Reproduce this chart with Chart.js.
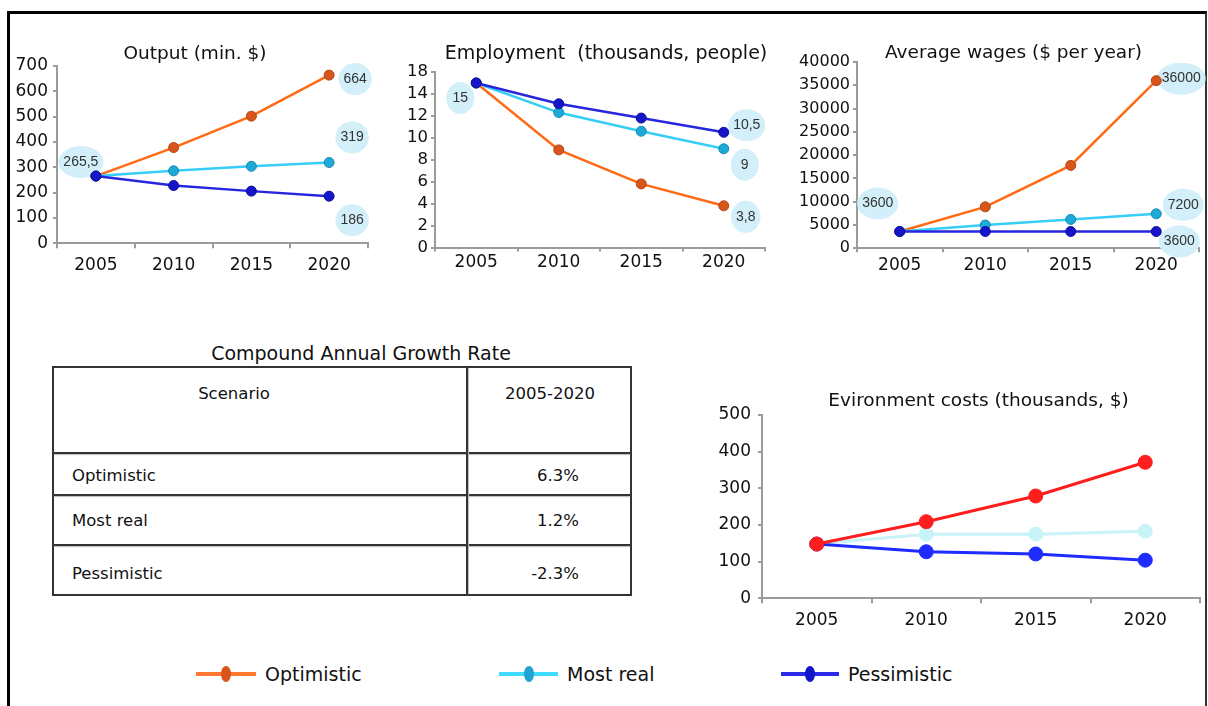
<!DOCTYPE html>
<html><head><meta charset="utf-8">
<script src="https://cdn.jsdelivr.net/npm/chart.js@4/dist/chart.umd.min.js"></script>
<style>
html,body{margin:0;padding:0;background:#fff;}
body{width:1208px;height:706px;overflow:hidden;position:relative;font-family:"DejaVu Sans",sans-serif;color:#111;}
.frame{position:absolute;left:7px;top:11px;width:1195px;height:800px;border-left:3px solid #000;border-top:3px solid #000;border-right:2px solid #333;}
canvas{position:absolute;}
.ttl{position:absolute;text-align:center;font-size:19px;line-height:24px;white-space:nowrap;}
.tbl{position:absolute;left:52px;top:366px;width:580px;height:230px;border:2px solid #333;box-sizing:border-box;}
.hl{position:absolute;left:0;right:0;height:2px;background:#333;box-shadow:0 1px 1px #bbb;}
.vl{position:absolute;top:0;bottom:0;width:2px;background:#333;box-shadow:1px 0 1px #bbb;}
.cell{position:absolute;font-size:16.5px;line-height:20px;white-space:nowrap;}
.lg{position:absolute;top:662px;height:24px;}
.lg .ln{position:absolute;top:10px;height:4px;}
.lg .dt{position:absolute;top:4px;width:10px;height:16px;border-radius:50%;}
.lg .tx{position:absolute;top:0;font-size:19px;line-height:24px;white-space:nowrap;}
</style>
</head>
<body>
<div class="frame"></div>
<canvas id="c1"></canvas>
<canvas id="c2"></canvas>
<canvas id="c3"></canvas>
<canvas id="c4"></canvas>
<div class="ttl" id="tblTitle" style="left:161px;width:400px;top:341px;">Compound Annual Growth Rate</div>
<div class="tbl" id="tbl"></div>
<div id="legend"></div>
<script>
// ---------- data ----------
const years = ['2005', '2010', '2015', '2020'];
const seriesNames = ['Optimistic', 'Most real', 'Pessimistic'];

const outputOptimistic = [265.5, 378, 502, 664];
const outputMostReal = [265.5, 286, 304, 319];
const outputPessimistic = [265.5, 228, 206, 186];
const outputBubbleText = ['265,5', '664', '319', '186'];

const employmentOptimistic = [15, 8.9, 5.8, 3.8];
const employmentMostReal = [15, 12.3, 10.6, 9];
const employmentPessimistic = [15, 13.1, 11.8, 10.5];
const employmentTickLabels = ['0', '2', '4', '6', '8', '10', '12', '14', '18'];
const employmentBubbleText = ['15', '10,5', '9', '3,8'];

const wagesOptimistic = [3600, 8900, 17800, 36000];
const wagesMostReal = [3600, 5000, 6200, 7400];
const wagesPessimistic = [3600, 3600, 3600, 3600];
const wagesBubbleText = ['3600', '36000', '7200', '3600'];

const envOptimistic = [148, 209, 279, 371];
const envMostReal = [148, 175, 175, 183];
const envPessimistic = [148, 127, 121, 104];

const cagrHeader = ['Scenario', '2005-2020'];
const cagrScenarios = ['Optimistic', 'Most real', 'Pessimistic'];
const cagrValues = ['6.3%', '1.2%', '-2.3%'];

// ---------- styles ----------
const COL = {
  opt: {line: '#ff6a14', point: '#d8561c', border: '#b44414'},
  mr: {line: '#36cdf6', point: '#1fa9d6', border: '#168ab2'},
  pes: {line: '#2626dc', point: '#1616c8', border: '#0c0ca0'}
};
const ENV = {opt: '#ff1e1e', mr: '#c8f3f8', pes: '#1f2cff'};

Chart.defaults.font.family = '"DejaVu Sans", sans-serif';
Chart.defaults.color = '#111';
Chart.defaults.animation = false;

function drawBubbles(chart, opts, phase) {
  const items = (opts && opts.items) || [];
  const ctx = chart.ctx;
  ctx.save();
  ctx.font = '14px "Liberation Sans", Arial, sans-serif';
  items.forEach(it => {
    const el = chart.getDatasetMeta(it.ds).data[it.i];
    if (!el) return;
    const x = el.x + it.dx, y = el.y + it.dy;
    if (phase === 'fill') {
      const w = ctx.measureText(it.text).width;
      ctx.fillStyle = '#d2effa';
      ctx.beginPath();
      ctx.ellipse(x, y, Math.max(w / 2 + 5, 14), 16, 0, 0, Math.PI * 2);
      ctx.fill();
    } else {
      ctx.fillStyle = '#333';
      ctx.textAlign = 'center';
      ctx.textBaseline = 'middle';
      ctx.fillText(it.text, x, y);
    }
  });
  ctx.restore();
}
const bubblePlugin = {
  id: 'bubbles',
  beforeDatasetsDraw(chart, args, opts) { drawBubbles(chart, opts, 'fill'); },
  afterDatasetsDraw(chart, args, opts) { drawBubbles(chart, opts, 'text'); }
};
const panelTitlePlugin = {
  id: 'panelTitle',
  afterDraw(chart, args, o) {
    if (!o || !o.text) return;
    const ctx = chart.ctx;
    ctx.save();
    ctx.font = o.size + 'px "DejaVu Sans", sans-serif';
    ctx.fillStyle = '#111';
    ctx.textAlign = 'center';
    ctx.textBaseline = 'middle';
    ctx.fillText(o.text, o.x, o.y);
    ctx.restore();
  }
};

function lineDs(label, data, c, order, radius, width) {
  return {
    label, data, order,
    borderColor: c.line, backgroundColor: c.point,
    pointBackgroundColor: c.point, pointBorderColor: c.border,
    pointRadius: radius, pointBorderWidth: 1, borderWidth: width,
    tension: 0
  };
}

function makeChart(id, g) {
  const cv = document.getElementById(id);
  cv.width = g.canvas.w; cv.height = g.canvas.h;
  cv.style.left = g.canvas.x + 'px'; cv.style.top = g.canvas.y + 'px';
  const pT = g.area.top - g.canvas.y;
  const pR = g.canvas.x + g.canvas.w - g.area.right;
  const yW = g.area.left - g.canvas.x;
  const xH = g.canvas.y + g.canvas.h - g.area.bottom;
  const axisColor = '#9b9b9b';
  return new Chart(cv, {
    type: 'line',
    data: {labels: years, datasets: g.datasets},
    options: {
      responsive: false, devicePixelRatio: 1, animation: false,
      layout: {padding: {left: 0, right: pR, top: pT, bottom: 0}},
      plugins: {
        legend: {display: false}, tooltip: {enabled: false}, title: {display: false},
        panelTitle: {text: g.title, size: g.titleSize, x: g.titleX - g.canvas.x, y: g.titleMid - g.canvas.y},
        bubbles: {items: g.bubbles || []}
      },
      scales: {
        x: {
          offset: true,
          grid: {offset: true, drawOnChartArea: false, drawTicks: true, tickLength: g.xTl, color: axisColor, lineWidth: 2},
          border: {color: axisColor, width: 2},
          ticks: {font: {size: g.xFont}, padding: g.xPad, color: '#111', maxRotation: 0, autoSkip: false},
          afterFit: s => { s.height = xH; }
        },
        y: {
          min: g.y.min, max: g.y.max,
          grid: {drawOnChartArea: false, drawTicks: true, tickLength: 4, color: axisColor, lineWidth: 2},
          border: {color: axisColor, width: 2},
          ticks: {stepSize: g.y.step, font: {size: g.yFont}, padding: g.yPad, color: '#111', autoSkip: false,
            callback: g.y.callback || (v => String(v))},
          afterFit: s => { s.width = yW; }
        }
      }
    },
    plugins: [bubblePlugin, panelTitlePlugin]
  });
}

// Output
makeChart('c1', {
  canvas: {x: 0, y: 26, w: 400, h: 258},
  area: {left: 57, right: 368, top: 66, bottom: 243.3},
  title: 'Output (min. $)', titleSize: 18.5, titleX: 195, titleMid: 54.5,
  xTl: 5, xPad: 7, xFont: 17, yFont: 17, yPad: 5,
  y: {min: 0, max: 700, step: 100},
  datasets: [
    lineDs(seriesNames[0], outputOptimistic, COL.opt, 2, 5, 2.5),
    lineDs(seriesNames[1], outputMostReal, COL.mr, 1, 5, 2.5),
    lineDs(seriesNames[2], outputPessimistic, COL.pes, 0, 5, 2.5)
  ],
  bubbles: [
    {ds: 2, i: 0, text: outputBubbleText[0], dx: -15, dy: -14},
    {ds: 0, i: 3, text: outputBubbleText[1], dx: 26, dy: 4},
    {ds: 1, i: 3, text: outputBubbleText[2], dx: 23, dy: -25},
    {ds: 2, i: 3, text: outputBubbleText[3], dx: 23, dy: 24}
  ]
});

// Employment
makeChart('c2', {
  canvas: {x: 395, y: 26, w: 410, h: 258},
  area: {left: 435, right: 765, top: 72, bottom: 247.5},
  title: 'Employment  (thousands, people)', titleSize: 19, titleX: 606, titleMid: 53.8,
  xTl: 4, xPad: 1, xFont: 17, yFont: 16.5, yPad: 3,
  y: {min: 0, max: 16, step: 2, callback: (v, i) => employmentTickLabels[i]},
  datasets: [
    lineDs(seriesNames[0], employmentOptimistic, COL.opt, 2, 5, 2.5),
    lineDs(seriesNames[1], employmentMostReal, COL.mr, 1, 5, 2.5),
    lineDs(seriesNames[2], employmentPessimistic, COL.pes, 0, 5, 2.5)
  ],
  bubbles: [
    {ds: 2, i: 0, text: employmentBubbleText[0], dx: -16, dy: 15},
    {ds: 2, i: 3, text: employmentBubbleText[1], dx: 23, dy: -7},
    {ds: 1, i: 3, text: employmentBubbleText[2], dx: 21, dy: 16},
    {ds: 0, i: 3, text: employmentBubbleText[3], dx: 22, dy: 11}
  ]
});

// Average wages
makeChart('c3', {
  canvas: {x: 790, y: 26, w: 418, h: 258},
  area: {left: 857, right: 1199, top: 62, bottom: 248.3},
  title: 'Average wages ($ per year)', titleSize: 18.5, titleX: 1013.5, titleMid: 52.8,
  xTl: 4, xPad: 3, xFont: 17, yFont: 16, yPad: 3,
  y: {min: 0, max: 40000, step: 5000},
  datasets: [
    lineDs(seriesNames[0], wagesOptimistic, COL.opt, 2, 5, 2.5),
    lineDs(seriesNames[1], wagesMostReal, COL.mr, 1, 5, 2.5),
    lineDs(seriesNames[2], wagesPessimistic, COL.pes, 0, 5, 2.5)
  ],
  bubbles: [
    {ds: 2, i: 0, text: wagesBubbleText[0], dx: -22, dy: -28},
    {ds: 0, i: 3, text: wagesBubbleText[1], dx: 25, dy: -2},
    {ds: 1, i: 3, text: wagesBubbleText[2], dx: 27, dy: -9},
    {ds: 2, i: 3, text: wagesBubbleText[3], dx: 23, dy: 10}
  ]
});

// Environment costs
makeChart('c4', {
  canvas: {x: 700, y: 380, w: 508, h: 260},
  area: {left: 762, right: 1202, top: 415, bottom: 598.3},
  title: 'Evironment costs (thousands, $)', titleSize: 18.5, titleX: 978.5, titleMid: 401,
  xTl: 5, xPad: 7, xFont: 17, yFont: 17, yPad: 7,
  y: {min: 0, max: 500, step: 100},
  datasets: [
    lineDs(seriesNames[0], envOptimistic, {line: ENV.opt, point: ENV.opt, border: ENV.opt}, 0, 7, 3),
    lineDs(seriesNames[1], envMostReal, {line: ENV.mr, point: ENV.mr, border: ENV.mr}, 2, 7, 3),
    lineDs(seriesNames[2], envPessimistic, {line: ENV.pes, point: ENV.pes, border: ENV.pes}, 1, 7, 3)
  ]
});

// ---------- table ----------
(function () {
  const t = document.getElementById('tbl');
  const ox = 52, oy = 366;
  const rowLines = [453, 495, 545];
  const colLine = 467;
  rowLines.forEach(y => {
    const d = document.createElement('div'); d.className = 'hl';
    d.style.top = (y - oy - 3) + 'px'; t.appendChild(d);
  });
  const v = document.createElement('div'); v.className = 'vl';
  v.style.left = (colLine - ox - 3) + 'px'; t.appendChild(v);
  function cell(text, style) {
    const d = document.createElement('div'); d.className = 'cell'; d.textContent = text;
    Object.assign(d.style, style); t.appendChild(d);
  }
  cell(cagrHeader[0], {left: (234 - ox - 2 - 100) + 'px', width: '200px', textAlign: 'center', top: (395 - oy - 2 - 11) + 'px'});
  cell(cagrHeader[1], {left: (550 - ox - 2 - 80) + 'px', width: '160px', textAlign: 'center', top: (395 - oy - 2 - 11) + 'px'});
  const rowMid = [477, 522, 575];
  cagrScenarios.forEach((s, i) => {
    cell(s, {left: (72 - ox - 2) + 'px', top: (rowMid[i] - oy - 2 - 11) + 'px'});
    cell(cagrValues[i], {right: (632 - 579 - 2) + 'px', top: (rowMid[i] - oy - 2 - 11) + 'px'});
  });
})();

// ---------- legend ----------
(function () {
  const lg = document.getElementById('legend');
  const pos = [{l: 196, d: 226, t: 265}, {l: 499, d: 529, t: 567}, {l: 781, d: 810, t: 848}];
  const cs = [
    {line: '#ff7a30', dot: '#d8561c'},
    {line: '#3fdcff', dot: '#1fa5d0'},
    {line: '#2a2ae6', dot: '#1414c8'}
  ];
  seriesNames.forEach((name, i) => {
    const p = pos[i];
    const w = document.createElement('div'); w.className = 'lg'; w.style.left = p.l + 'px';
    w.innerHTML = '<div class="ln" style="left:0;width:' + (p.t - p.l - 9) + 'px;background:' + cs[i].line + '"></div>' +
      '<div class="dt" style="left:' + (p.d - p.l - 5) + 'px;background:' + cs[i].dot + '"></div>' +
      '<div class="tx" style="left:' + (p.t - p.l) + 'px"></div>';
    w.querySelector('.tx').textContent = name;
    lg.appendChild(w);
  });
})();
</script>
</body></html>
